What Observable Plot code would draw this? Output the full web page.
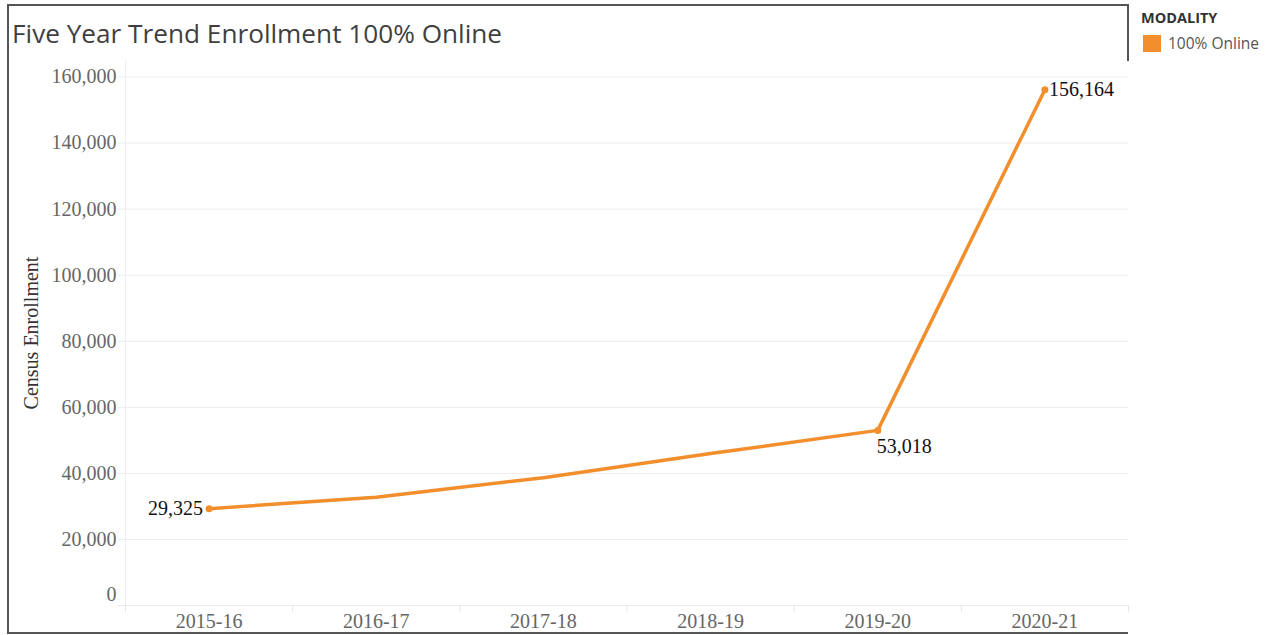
<!DOCTYPE html>
<html>
<head>
<meta charset="utf-8">
<script src="https://cdn.jsdelivr.net/npm/d3@7"></script>
<script src="https://cdn.jsdelivr.net/npm/@observablehq/plot@0.6"></script>
<style>
  html, body { margin: 0; padding: 0; background: #fff; overflow: hidden; }
  #wrap { position: relative; width: 1273px; height: 635px; }
  #chart { position: absolute; left: 0; top: 0; }
  #title { position: absolute; left: 12px; top: 15px; font-family: "Open Sans", sans-serif; font-size: 26.2px; line-height: 36px; color: #3f3f3f; white-space: nowrap; }
  .frame { position: absolute; border-color: #555; border-style: solid; }
  #legend { position: absolute; left: 1141px; top: 8px; font-family: "Open Sans", sans-serif; }
  #legend .lt { font-size: 14.5px; line-height: 20px; font-weight: 700; color: #333; }
  #legend .row { display: flex; align-items: center; margin-top: 4px; }
  #legend .sw { width: 18px; height: 17px; margin-left: 2px; margin-right: 7px; }
  #legend .lb { font-size: 15.5px; color: #555; }
</style>
</head>
<body>
<div id="wrap">
  <div id="chart"></div>
  <div class="frame" style="left:7px; top:4px; width:1119px; height:626px; border-width:2px 0 2px 2px;"></div>
  <div class="frame" style="left:1127px; top:4px; width:0; height:57px; border-width:0 0 0 2px;"></div>
  <div id="title"></div>
  <div id="legend"></div>
</div>
<script>
// ---- data ----
const categories = ["2015-16", "2016-17", "2017-18", "2018-19", "2019-20", "2020-21"];
const enrollment = [29325, 32800, 38700, 46000, 53018, 156164];
const labeledYears = ["2015-16", "2019-20", "2020-21"];
const yTicks = [0, 20000, 40000, 60000, 80000, 100000, 120000, 140000, 160000];
const yMax = 165000;
const titleText = "Five Year Trend Enrollment 100% Online";
const yLabel = "Census Enrollment";
const legendTitle = "MODALITY";
const seriesName = "100% Online";
const orange = "#F28E2B";

const data = categories.map((c, i) => ({i, year: c, value: enrollment[i]}));
const labeled = data.filter(d => labeledYears.includes(d.year));
const boundaries = d3.range(categories.length + 1).map(k => k - 0.5);
const fmt = d3.format(",");

document.getElementById("title").textContent = titleText;
document.getElementById("legend").innerHTML =
  `<div class="lt">${legendTitle}</div><div class="row"><div class="sw" style="background:${orange}"></div><div class="lb">${seriesName}</div></div>`;

const labelStyle = {
  "2015-16": {textAnchor: "end", dx: -6, dy: 0},
  "2019-20": {textAnchor: "start", dx: -1, dy: 16},
  "2020-21": {textAnchor: "start", dx: 4, dy: 0}
};

const chart = Plot.plot({
  width: 1273,
  height: 635,
  marginLeft: 125,
  marginRight: 145,
  marginTop: 60,
  marginBottom: 30,
  style: {fontFamily: "'Liberation Serif', 'Times New Roman', serif", fontSize: "20px", background: "transparent"},
  x: {domain: [-0.5, categories.length - 0.5]},
  y: {domain: [0, yMax]},
  marks: [
    Plot.ruleY(yTicks, {y: d => d, stroke: "#ececec", strokeWidth: 1, insetLeft: -7}),
    Plot.ruleX(boundaries, {x: d => d, y1: 0, y2: -2000, stroke: "#e4e4e4"}),
    Plot.ruleX([boundaries[0]], {x: d => d, y1: 0, y2: yMax, stroke: "#f0f0f0"}),
    Plot.axisX({ticks: d3.range(categories.length), tickFormat: i => categories[i], tickSize: 0, tickPadding: 8, color: "#666", label: null, fontSize: 20}),
    Plot.axisY({ticks: yTicks.filter(t => t > 0), tickFormat: fmt, tickSize: 0, tickPadding: 9, color: "#666", label: null, fontSize: 20}),
    Plot.axisY({ticks: [0], tickFormat: fmt, tickSize: 0, tickPadding: 9, dy: -11, color: "#666", label: null, fontSize: 20}),
    Plot.text([yLabel], {frameAnchor: "left", textAnchor: "middle", dx: -94, rotate: -90, fill: "#333", fontSize: 20, text: d => d}),
    Plot.line(data, {x: "i", y: "value", stroke: orange, strokeWidth: 3.5, strokeLinejoin: "round", strokeLinecap: "round"}),
    Plot.dot(labeled, {x: "i", y: "value", r: 3.5, fill: orange, stroke: "none"}),
    ...labeled.map(d => Plot.text([d], {x: "i", y: "value", text: r => fmt(r.value), fill: "#111", fontSize: 20, ...labelStyle[d.year]}))
  ]
});
document.getElementById("chart").appendChild(chart);
</script>
</body>
</html>
